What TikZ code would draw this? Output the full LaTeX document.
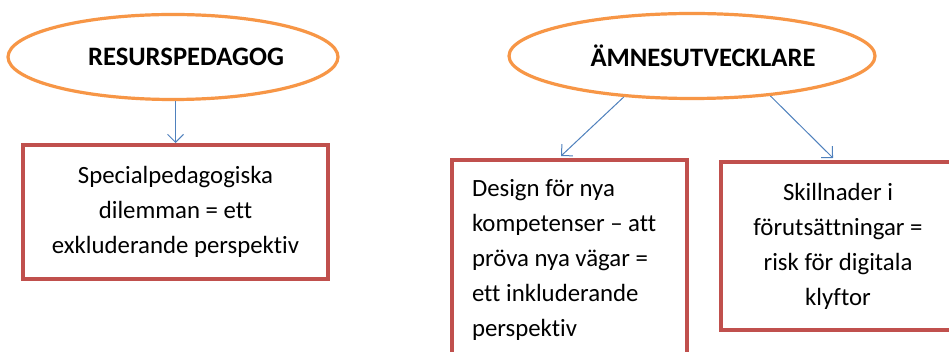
\documentclass[tikz,border=0pt]{standalone}
\usepackage{fontspec}
\setmainfont{Carlito}[Ligatures={NoCommon}]
\usetikzlibrary{shapes.geometric,arrows.meta,calc}
\definecolor{ellorange}{HTML}{F79646}
\definecolor{boxred}{HTML}{C0504D}
\definecolor{arrowblue}{HTML}{4F81BD}
\begin{document}
\begin{tikzpicture}[x=1pt,y=-1pt,
  oval/.style={ellipse, draw=ellorange, line width=3.2pt, inner sep=0pt,
    font=\fontsize{26.6}{28}\selectfont\bfseries},
  redbox/.style={rectangle, draw=boxred, line width=4pt, inner sep=0pt,
    font=\fontsize{24.8}{35}\selectfont},
  conn/.style={draw=arrowblue, line width=1pt, -{Straight Barb[length=8pt,width=16pt]}}]
\useasboundingbox (0,0) rectangle (949,352);
\clip (0,0) rectangle (949,352);
\fill[white] (0,0) rectangle (949,352);
% ellipses
\node[oval, minimum width=330, minimum height=85] (rp) at (173,57) {\hspace*{26pt}RESURSPEDAGOG};
\node[oval, minimum width=366, minimum height=85] (ae) at (692,56) {\hspace*{22pt}ÄMNESUTVECKLARE};
% boxes
\node[redbox, minimum width=305, minimum height=134, align=center] (b1) at (175.5,212)
  {Specialpedagogiska\\dilemman = ett\\exkluderande perspektiv};
\node[redbox, minimum width=235, minimum height=200, text width=195, align=flush left] (b2) at (569.5,260)
  {Design för nya\\kompetenser – att\\pröva nya vägar =\\ett inkluderande\\perspektiv};
\node[redbox, minimum width=234, minimum height=168, align=center] (b3) at (838,246)
  {Skillnader i\\förutsättningar =\\risk för digitala\\klyftor};
% connectors
\draw[conn] (b1.north |- rp.south) -- (b1.north);
\draw[conn] (ae.211) -- ($(b2.north west)+(111,-2)$);
\draw[conn] (ae.333) -- ($(b3.north west)+(114,-2)$);
\end{tikzpicture}
\end{document}
